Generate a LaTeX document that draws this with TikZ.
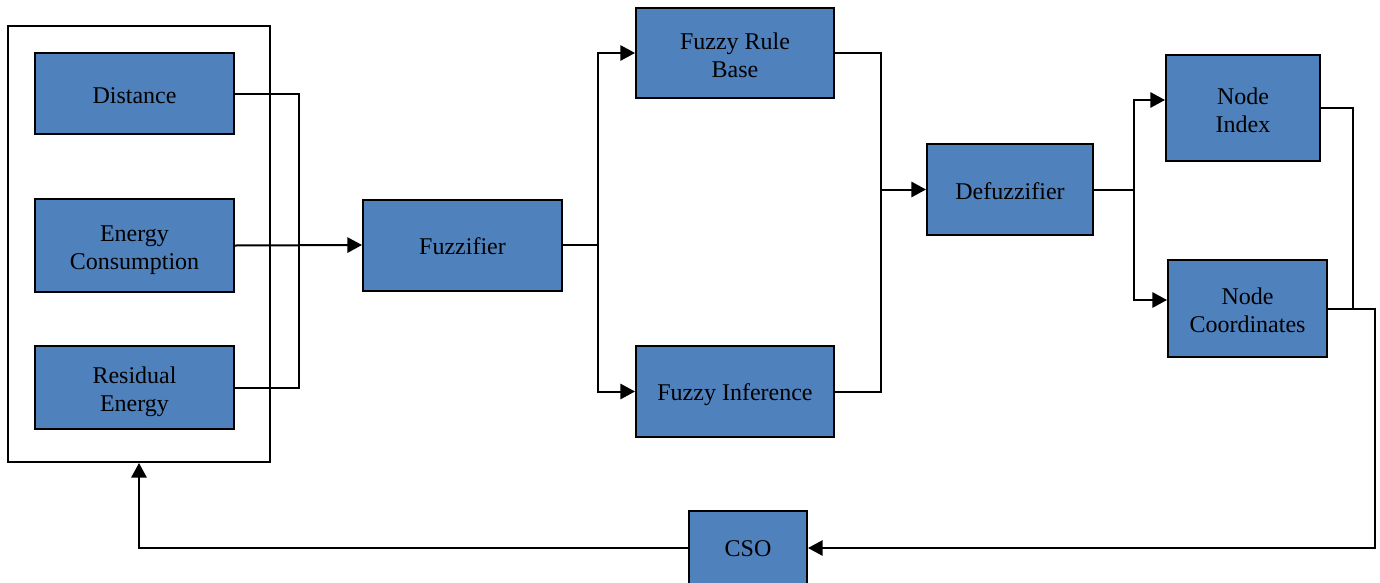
\documentclass[tikz,border=0pt]{standalone}
\usepackage{fontspec}
\setmainfont{Liberation Serif}
\usetikzlibrary{arrows.meta,calc}
\definecolor{boxblue}{HTML}{4F81BD}
\newcommand\lowr[2][1.5pt]{\raisebox{-#1}[\height][\depth]{#2}}
\begin{document}
\begin{tikzpicture}[x=0.75pt,y=-0.75pt,
  blk/.style={draw=black,line width=1.5pt,fill=boxblue,inner sep=0pt,align=center,
    font=\fontsize{18}{21}\selectfont},
  frame/.style={draw=black,line width=1.5pt,inner sep=0pt},
  wire/.style={line width=1.5pt},
  arr/.style={line width=1.5pt,-{Triangle[length=11pt,width=11.5pt]}}]
\useasboundingbox (0,0) rectangle (1380,582);
\begin{scope}
\clip (0,0) rectangle (1380,582);
\node[frame,minimum width=262*0.75pt,minimum height=436*0.75pt] (outer) at (139,244) {};
\node[blk,minimum width=199*0.75pt,minimum height=81*0.75pt] (dist) at (134.5,93.5) {\lowr{Distance}};
\node[blk,minimum width=199*0.75pt,minimum height=93*0.75pt] (en) at (134.5,245.5) {\lowr[3.5pt]{Energy}\\\lowr[3.5pt]{Consumption}};
\node[blk,minimum width=199*0.75pt,minimum height=83*0.75pt] (res) at (134.5,387.5) {\lowr[3.5pt]{Residual}\\\lowr[3.5pt]{Energy}};
\node[blk,minimum width=199*0.75pt,minimum height=91*0.75pt] (fuzz) at (462.5,245) {\lowr[1pt]{Fuzzifier}};
\node[blk,minimum width=198*0.75pt,minimum height=90*0.75pt] (rule) at (735,53) {\lowr{Fuzzy Rule}\\\lowr{Base}};
\node[blk,minimum width=198*0.75pt,minimum height=91*0.75pt] (inf) at (735,391.5) {\lowr[2pt]{Fuzzy Inference}};
\node[blk,minimum width=166*0.75pt,minimum height=91*0.75pt] (defuz) at (1010,189.5) {\lowr{Defuzzifier}};
\node[blk,minimum width=154*0.75pt,minimum height=106*0.75pt] (index) at (1243,108) {\lowr{Node}\\\lowr{Index}};
\node[blk,minimum width=159*0.75pt,minimum height=97*0.75pt] (coords) at (1247.5,308.5) {\lowr{Node}\\\lowr{Coordinates}};
\node[blk,minimum width=118*0.75pt,minimum height=74*0.75pt] (cso) at (748,548) {\lowr[0.75pt]{CSO}};

\coordinate (b1) at (299,245.5);
\coordinate (b2) at (598,245);
\coordinate (b3) at (881,189.5);
\coordinate (b4) at (1134,189.5);
\coordinate (c1) at (1353,308.5);
\coordinate (c2) at (1375,548);

\draw[wire] (dist.east) -| (b1);
\draw[wire] (res.east) -| (b1);
\draw[arr] (en.east) -- (fuzz.west);

\draw[wire] (fuzz.east) -- (b2);
\draw[arr] (b2) |- (rule.west);
\draw[arr] (b2) |- (inf.west);

\draw[wire] (rule.east) -| (b3);
\draw[wire] (inf.east) -| (b3);
\draw[arr] (b3) -- (defuz.west);

\draw[wire] (defuz.east) -- (b4);
\draw[arr] (b4) |- ($(index.west)+(0,-8)$);
\draw[arr] (b4) |- ($(coords.west)+(0,-8.5)$);

\draw[wire] (index.east) -| (c1);
\draw[arr] (coords.east) -| (c2) -- (cso.east);
\draw[arr] (cso.west) -| (outer.south);
\end{scope}
\end{tikzpicture}
\end{document}
